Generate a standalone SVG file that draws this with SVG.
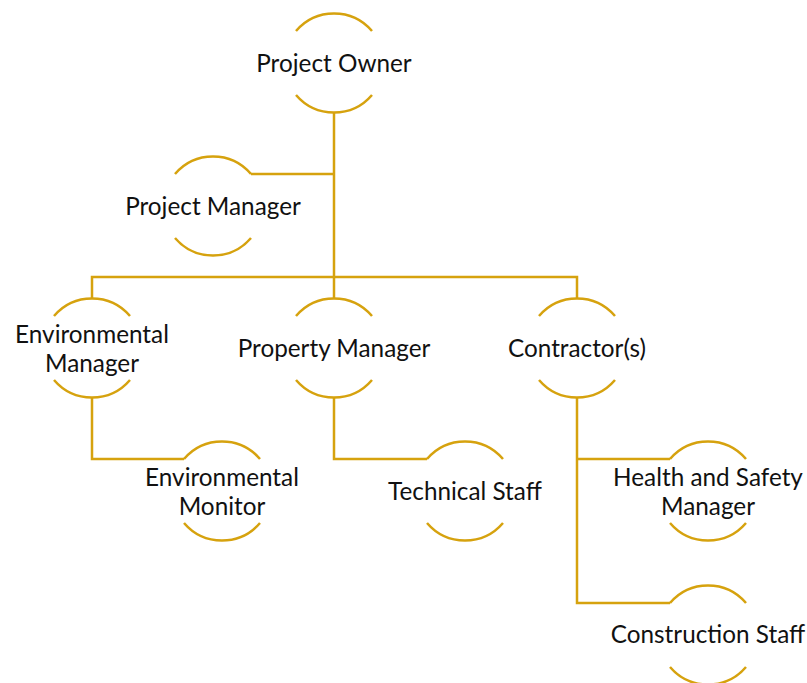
<svg xmlns="http://www.w3.org/2000/svg" width="807" height="683" viewBox="0 0 807 683">
  <defs>
    <!-- node outline: top and bottom arcs of a circle r=50, centred at 0,0 -->
    <g id="ring">
      <path d="M -38 -32 A 50 50 0 0 1 38 -32"/>
      <path d="M -38 32 A 50 50 0 0 0 38 32"/>
    </g>
  </defs>
  <style>
    .ring { fill: none; stroke: #D6A20E; stroke-width: 2.5; }
    .link { fill: none; stroke: #D6A20E; stroke-width: 2.5; }
    .label { font-family: Lato, "Open Sans", "Liberation Sans", sans-serif; font-size: 24.3px; fill: #111; text-anchor: middle; }
  </style>
  <rect width="807" height="683" fill="#fff"/>

  <g id="connectors" class="link">
    <path d="M 334 113 V 277"/>
    <path d="M 334 174 H 251"/>
    <path d="M 92 298 V 277 H 577 V 298"/>
    <path d="M 334 277 V 298"/>
    <path d="M 92 398 V 459 H 184"/>
    <path d="M 334 398 V 459 H 427"/>
    <path d="M 577 398 V 603 H 670"/>
    <path d="M 577 459 H 670"/>
  </g>

  <g id="project-owner">
    <use href="#ring" class="ring" transform="translate(334 63)"/>
    <text class="label" x="334" y="72">Project Owner</text>
  </g>
  <g id="project-manager">
    <use href="#ring" class="ring" transform="translate(213 206)"/>
    <text class="label" x="213" y="215">Project Manager</text>
  </g>
  <g id="environmental-manager">
    <use href="#ring" class="ring" transform="translate(92 348)"/>
    <text class="label" x="92" y="343">Environmental</text>
    <text class="label" x="92" y="372">Manager</text>
  </g>
  <g id="property-manager">
    <use href="#ring" class="ring" transform="translate(334 348)"/>
    <text class="label" x="334" y="357">Property Manager</text>
  </g>
  <g id="contractors">
    <use href="#ring" class="ring" transform="translate(577 348)"/>
    <text class="label" x="577" y="357">Contractor(s)</text>
  </g>
  <g id="environmental-monitor">
    <use href="#ring" class="ring" transform="translate(222 491)"/>
    <text class="label" x="222" y="486">Environmental</text>
    <text class="label" x="222" y="515">Monitor</text>
  </g>
  <g id="technical-staff">
    <use href="#ring" class="ring" transform="translate(465 491)"/>
    <text class="label" x="465" y="500">Technical Staff</text>
  </g>
  <g id="health-safety-manager">
    <use href="#ring" class="ring" transform="translate(708 491)"/>
    <text class="label" x="708" y="486">Health and Safety</text>
    <text class="label" x="708" y="515">Manager</text>
  </g>
  <g id="construction-staff">
    <use href="#ring" class="ring" transform="translate(708 635)"/>
    <text class="label" x="708" y="643">Construction Staff</text>
  </g>
</svg>
